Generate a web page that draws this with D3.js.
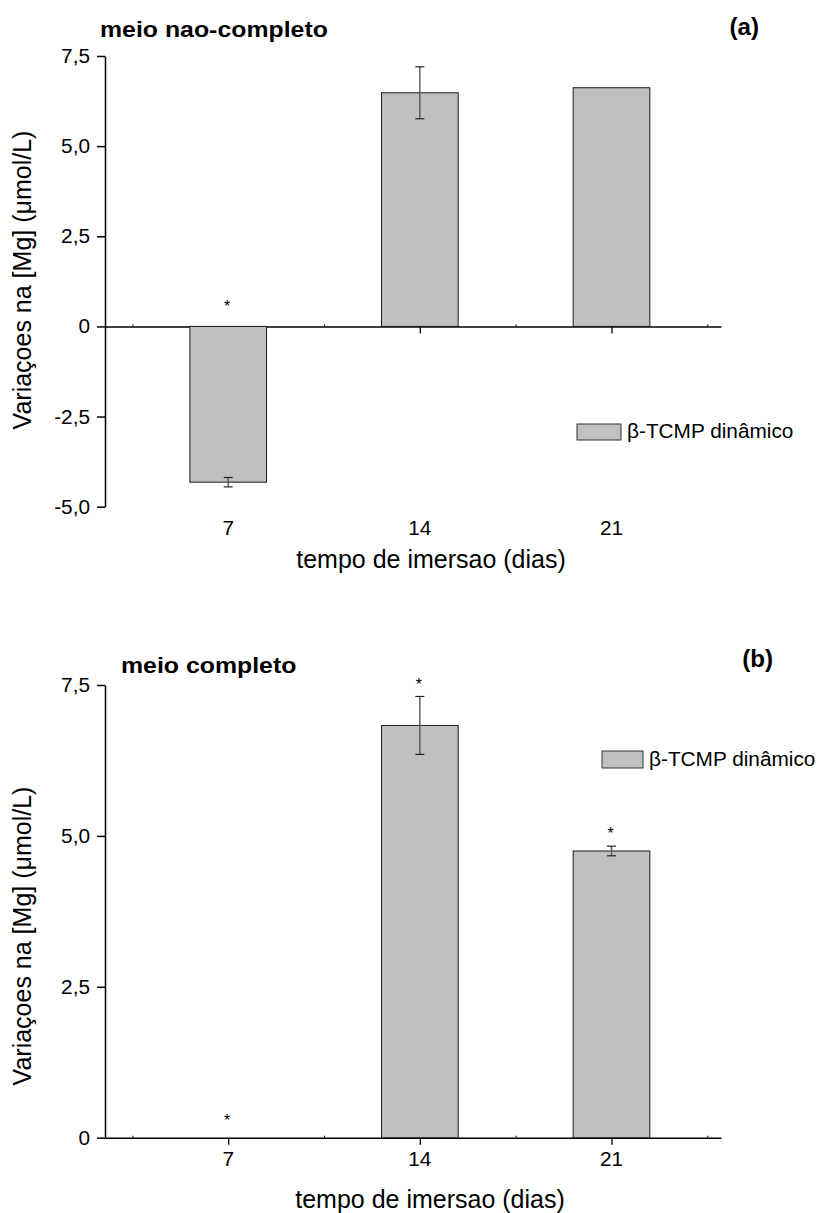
<!DOCTYPE html>
<html>
<head>
<meta charset="utf-8">
<script src="https://cdn.jsdelivr.net/npm/d3@7"></script>
<style>
  html, body { margin: 0; padding: 0; background: #fff; }
  svg { display: block; }
  text { font-family: "Liberation Sans", Arial, sans-serif; fill: #000; }
</style>
</head>
<body>
<svg id="chart" width="819" height="1213"></svg>
<script>
// ---------- data ----------
const days = [7, 14, 21];
const dayLabels = ["7", "14", "21"];
const minorDays = [3.5, 10.5, 17.5, 24.5];

const valuesA = [-4.32, 6.48, 6.62];
const errorsA = [0.13, 0.72, 0];
const starsA  = [0.66, null, null];

const valuesB = [0, 6.83, 4.75];
const errorsB = [0, 0.48, 0.08];
const starsB  = [0.35, 7.57, 5.09];

const yTicksA = [-5, -2.5, 0, 2.5, 5, 7.5];
const yTicksB = [0, 2.5, 5, 7.5];

const titleA = "meio nao-completo";
const titleB = "meio completo";
const tagA = "(a)";
const tagB = "(b)";
const legendLabel = "β-TCMP dinâmico";
const xTitle = "tempo de imersao (dias)";
const yTitle = "Variaçoes na [Mg] (μmol/L)";

// ---------- helpers ----------
const svg = d3.select("#chart");
const fmt = d => d === 0 ? "0" : d.toFixed(1).replace(".", ",");

function txt(g, x, y, s, o) {
  o = o || {};
  return g.append("text")
    .attr("transform", `translate(${x},${y}) rotate(${o.rot || 0}) scale(${o.sx || 1},1)`)
    .attr("text-anchor", o.anchor || "start")
    .style("font-size", (o.size || 17) + "px")
    .style("font-weight", o.bold ? "bold" : "normal")
    .text(s);
}

function panel(cfg) {
  const g = svg.append("g");
  const x = d3.scaleLinear().domain([2.5, 25]).range([105, 721]);
  const y = d3.scaleLinear().domain(cfg.yDomain).range(cfg.yRange);
  const half = 1.4;

  // y axis
  const yAxis = d3.axisLeft(y).tickValues(cfg.yTicks).tickSize(8).tickSizeOuter(0).tickFormat("");
  const ga = g.append("g").attr("transform", "translate(105,0)").call(yAxis);
  ga.select(".domain").attr("stroke", "#000").attr("stroke-width", 1.5);
  ga.selectAll(".tick line").attr("stroke", "#000").attr("stroke-width", 1.5);
  cfg.yTicks.forEach(t => txt(g, 90, y(t) + 7, fmt(t), {anchor: "end", size: 20, sx: 1.04}));

  // x axis at zero
  const xAxis = d3.axisBottom(x).tickValues(days).tickSize(7).tickSizeOuter(0).tickFormat("");
  const gx = g.append("g").attr("transform", `translate(0,${y(0)})`).call(xAxis);
  gx.select(".domain").attr("stroke", "#000").attr("stroke-width", 1.5);
  gx.selectAll(".tick line").attr("stroke", "#000").attr("stroke-width", 1.3);
  const xMinor = d3.axisTop(x).tickValues(minorDays).tickSize(2).tickSizeOuter(0).tickFormat("");
  const gm = g.append("g").attr("transform", `translate(0,${y(0)})`).call(xMinor);
  gm.select(".domain").remove();
  gm.selectAll(".tick line").attr("stroke", "#000").attr("stroke-width", 1);

  // x tick labels at bottom of frame
  const yBottom = y(cfg.yDomain[0]);
  days.forEach((d, i) => txt(g, x(d), yBottom + 28, dayLabels[i], {anchor: "middle", size: 20, sx: 1.04}));

  // bars
  g.selectAll("rect.bar").data(cfg.values.map((v, i) => ({d: days[i], v})))
    .join("rect").attr("class", "bar")
    .filter(d => d.v !== 0)
    .attr("x", d => x(d.d - half))
    .attr("width", d => x(d.d + half) - x(d.d - half))
    .attr("y", d => y(Math.max(0, d.v)))
    .attr("height", d => Math.abs(y(d.v) - y(0)))
    .attr("fill", "#c0c0c0").attr("stroke", "#1a1a1a").attr("stroke-width", 1);

  // error bars
  cfg.values.forEach((v, i) => {
    const e = cfg.errors[i];
    if (!e) return;
    const cx = x(days[i]);
    g.append("line").attr("x1", cx).attr("x2", cx).attr("y1", y(v + e)).attr("y2", y(v - e))
      .attr("stroke", "#555").attr("stroke-width", 1.4);
    [v + e, v - e].forEach(t => g.append("line")
      .attr("x1", cx - 4.5).attr("x2", cx + 4.5).attr("y1", y(t)).attr("y2", y(t))
      .attr("stroke", "#222").attr("stroke-width", 1.2));
  });

  // significance stars
  cfg.stars.forEach((s, i) => {
    if (s == null) return;
    txt(g, x(days[i]) - 1, y(s) + 9, "*", {anchor: "middle", size: 16, sx: 1});
  });

  // titles
  txt(g, cfg.titleX, cfg.titleY, cfg.title, {bold: true, size: 22, sx: 1.13});
  txt(g, cfg.tagX, cfg.tagY, cfg.tag, {bold: true, size: 23, sx: 1.05, anchor: "end"});

  // legend
  g.append("rect").attr("x", cfg.leg[0]).attr("y", cfg.leg[1]).attr("width", cfg.leg[2]).attr("height", cfg.leg[3])
    .attr("fill", "#c0c0c0").attr("stroke", "#333").attr("stroke-width", 1);
  txt(g, cfg.leg[0] + cfg.leg[2] + 6, cfg.leg[1] + cfg.leg[3] - 2, legendLabel, {size: 20, sx: 1.04});

  // axis titles
  txt(g, cfg.xtX, cfg.xtY, xTitle, {anchor: "middle", size: 25});
  txt(g, 31, cfg.ytY, yTitle, {anchor: "middle", size: 25, rot: -90});
}

panel({
  yDomain: [-5, 7.5], yRange: [506.7, 56], yTicks: yTicksA,
  values: valuesA, errors: errorsA, stars: starsA,
  title: titleA, titleX: 100, titleY: 37, tag: tagA, tagX: 759, tagY: 35,
  leg: [577, 424, 44, 16],
  xtX: 431, xtY: 568, ytY: 280
});

panel({
  yDomain: [0, 7.5], yRange: [1137.7, 685], yTicks: yTicksB,
  values: valuesB, errors: errorsB, stars: starsB,
  title: titleB, titleX: 121, titleY: 672.7, tag: tagB, tagX: 773, tagY: 667,
  leg: [602, 751, 41, 17],
  xtX: 430, xtY: 1208, ytY: 936
});
</script>
</body>
</html>
